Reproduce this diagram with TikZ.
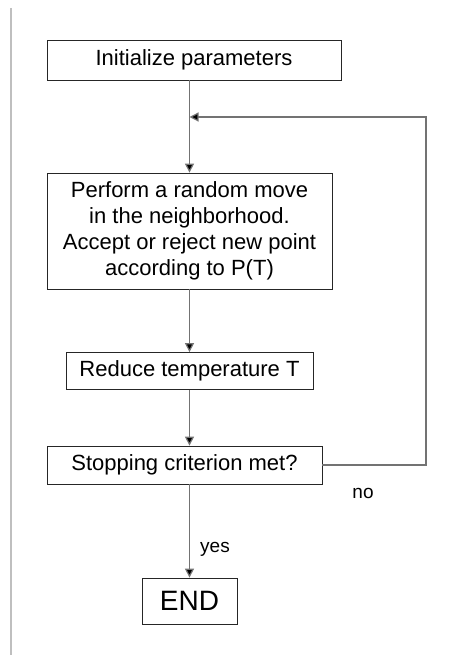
\documentclass[tikz,border=0pt]{standalone}
\usepackage{fontspec}
\setmainfont{Liberation Sans}
\usepackage{tikz}
\usetikzlibrary{arrows.meta}

\begin{document}
\begin{tikzpicture}[x=1pt,y=-1pt]
\tikzstyle{stepbox} =[draw=black!85, line width=0.8pt, inner sep=0pt, align=center, font=\fontsize{22}{26}\selectfont]
\tikzstyle{link} =[draw=black!55, line width=1.2pt, -{Triangle[width=9pt,length=9pt,fill=black]}]

\useasboundingbox (0,0) rectangle (452,655);
\draw[black!25, line width=1.5pt] (11,8) -- (11,655);

\node[stepbox,minimum width=294pt,minimum height=40pt](init) at (194,60){Initialize parameters};
\node[stepbox,minimum width=285pt,minimum height=116pt](move) at (189.5,231){Perform a random move\\in the neighborhood.\\Accept or reject new point\\according to P(T)};
\node[stepbox,minimum width=247pt,minimum height=37pt](cool) at (189.5,371){Reduce temperature T};
\node[stepbox,minimum width=275pt,minimum height=38pt](stop) at (184.5,465){Stopping criterion met?};
\node[stepbox,minimum width=95pt,minimum height=46pt,font=\fontsize{28}{30}\selectfont](end) at (189.5,601){END};

\coordinate (loop) at (426,117);

\draw [link] (init.south -| move.north) to (move.north);
\draw [link] (move) to (cool);
\draw [link] (cool) to (cool.south |- stop.north);
\draw [link] (stop.south -| end.north) to (end.north);
\draw [link] (stop.east) -| (loop) -- (loop -| move.north);

\node[font=\fontsize{19}{21}\selectfont](no) at (363,493){no};
\node[font=\fontsize{19}{21}\selectfont](yes) at (215,549){yes};
\end{tikzpicture}
\end{document}
